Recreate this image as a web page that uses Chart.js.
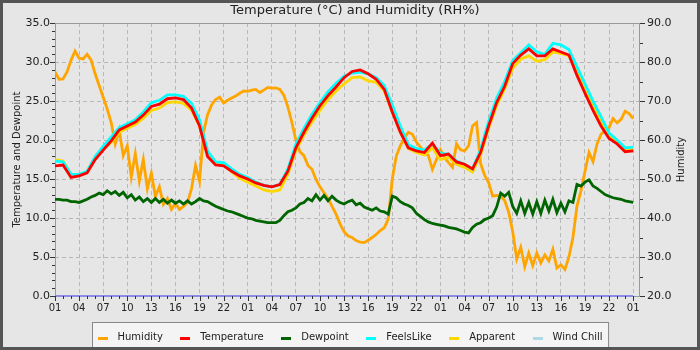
<!DOCTYPE html>
<html>
<head>
<meta charset="utf-8">
<script src="https://cdn.jsdelivr.net/npm/chart.js@4.4.1/dist/chart.umd.min.js"></script>
<style>
  html, body { margin: 0; padding: 0; background: #e6e6e6; }
</style>
</head>
<body>
<canvas id="myChart" width="700" height="350"></canvas>
<script>
// x values are hours after 01:00 on the first day
const tickHours = [0, 3, 6, 9, 12, 15, 18, 21, 24, 27, 30, 33, 36, 39, 42, 45, 48, 51, 54, 57, 60, 63, 66, 69, 72];
const tempTicks = [0, 5, 10, 15, 20, 25, 30, 35];
const humTicks = [20, 30, 40, 50, 60, 70, 80, 90];

// hourly readings
const temperature = [
  16.7, 16.8, 15.2, 15.4, 15.8, 17.5, 18.7, 19.9, 21.3, 21.8,
  22.3, 23.2, 24.3, 24.6, 25.3, 25.4, 25.2, 24.1, 21.8, 17.9,
  16.8, 16.7, 16.0, 15.4, 15.0, 14.5, 14.2, 14.0, 14.3, 16.0,
  19.0, 21.0, 22.8, 24.4, 25.7, 26.8, 28.0, 28.8, 29.0, 28.5,
  27.8, 26.5, 23.6, 21.0, 19.0, 18.6, 18.4, 19.6, 18.0, 18.2,
  17.2, 16.9, 16.3, 18.4, 21.8, 24.8, 26.9, 29.8, 30.9, 31.7,
  30.8, 30.8, 31.7, 31.3, 30.9, 28.3, 26.0, 23.8, 21.8, 20.2,
  19.5, 18.5, 18.6
];
const feelsLike = [
  17.3, 17.2, 15.6, 15.6, 16.0, 17.9, 19.2, 20.4, 21.6, 22.1,
  22.6, 23.6, 24.8, 25.1, 25.8, 25.8, 25.6, 24.7, 22.6, 18.6,
  17.2, 17.1, 16.3, 15.6, 15.2, 14.6, 14.2, 14.0, 14.3, 16.3,
  19.5, 21.5, 23.3, 24.8, 26.2, 27.3, 28.2, 28.6, 28.7, 28.5,
  28.0, 27.0, 24.5, 21.8, 19.4, 18.9, 18.7, 19.5, 18.3, 18.2,
  17.3, 16.9, 16.3, 18.8, 22.4, 25.4, 27.5, 30.2, 31.2, 32.2,
  31.3, 31.0, 32.4, 32.2, 31.6, 29.4, 27.2, 25.0, 23.0, 20.9,
  20.0, 19.0, 19.1
];
const apparent = [
  17.5, 17.3, 15.6, 15.6, 15.9, 17.6, 18.8, 19.7, 21.0, 21.5,
  22.0, 22.8, 23.8, 24.1, 24.8, 24.9, 24.7, 23.8, 21.8, 18.0,
  16.9, 16.8, 15.9, 15.1, 14.6, 14.1, 13.6, 13.4, 13.6, 15.6,
  18.7, 20.6, 22.3, 23.8, 25.2, 26.3, 27.2, 28.0, 28.1, 27.6,
  27.4, 26.3, 23.6, 21.0, 18.9, 18.4, 18.1, 19.0, 17.5, 17.8,
  16.9, 16.5, 15.9, 18.1, 21.5, 24.4, 26.6, 29.2, 30.4, 30.8,
  30.1, 30.3, 31.3, 31.1, 30.8, 28.8, 26.4, 24.4, 22.5, 20.5,
  19.7, 18.7, 18.8
];
const windChill = [
  0, 0, 0, 0, 0, 0, 0, 0, 0, 0,
  0, 0, 0, 0, 0, 0, 0, 0, 0, 0,
  0, 0, 0, 0, 0, 0, 0, 0, 0, 0,
  0, 0, 0, 0, 0, 0, 0, 0, 0, 0,
  0, 0, 0, 0, 0, 0, 0, 0, 0, 0,
  0, 0, 0, 0, 0, 0, 0, 0, 0, 0,
  0, 0, 0, 0, 0, 0, 0, 0, 0, 0,
  0, 0, 0
];

// half-hourly readings
const humidity = [
  77.5, 75.6, 75.7, 77.5, 80.5, 82.8, 81.0, 80.8, 82.0, 80.5,
  77.0, 74.0, 71.0, 68.0, 64.5, 59.0, 62.5, 56.0, 58.5, 50.5,
  56.5, 49.5, 55.0, 47.5, 51.5, 45.5, 48.0, 43.5, 45.0, 42.2,
  43.8, 42.2, 43.0, 44.0, 47.5, 53.5, 49.5, 62.0, 66.5, 69.0,
  70.4, 71.0, 69.5, 70.2, 70.8, 71.3, 72.0, 72.6, 72.5, 72.8,
  73.0, 72.2, 72.8, 73.5, 73.3, 73.4, 73.0, 71.5, 68.5, 64.5,
  60.0, 57.0, 56.0, 53.5, 52.5, 49.9, 48.0, 46.5, 45.0, 43.0,
  41.0, 38.5, 36.5, 35.4, 35.0, 34.2, 33.8, 33.7, 34.3, 35.0,
  35.8, 36.8, 37.5, 39.7, 50.0, 55.9, 58.5, 60.5, 62.0, 61.5,
  59.5, 58.2, 57.0, 56.0, 52.5, 55.0, 57.5, 55.5, 54.2, 53.0,
  59.0, 57.5, 57.2, 58.5, 63.6, 64.5, 54.0, 51.0, 49.1, 45.6,
  45.8, 45.6, 44.5, 41.5, 36.5, 29.5, 32.5, 27.5, 31.0, 27.8,
  31.0, 28.5, 30.5, 29.0, 32.0, 27.2, 28.0, 26.8, 30.0, 35.0,
  43.0, 47.0, 52.0, 56.8, 54.5, 59.0, 61.5, 62.5, 63.2, 65.5,
  64.4, 65.3, 67.4, 66.8, 65.5
];
const dewpoint = [
  12.4, 12.4, 12.3, 12.3, 12.1, 12.1, 12.0, 12.2, 12.4, 12.7,
  12.9, 13.2, 13.0, 13.5, 13.1, 13.4, 12.9, 13.3, 12.6, 13.0,
  12.3, 12.7, 12.1, 12.5, 12.0, 12.5, 12.0, 12.4, 11.9, 12.3,
  11.9, 12.2, 11.8, 12.2, 11.8, 12.1, 12.5, 12.2, 12.1, 11.8,
  11.5, 11.3, 11.1, 10.9, 10.8, 10.6, 10.4, 10.2, 10.0, 9.9,
  9.7, 9.6, 9.5, 9.4, 9.4, 9.4, 9.7, 10.3, 10.8, 11.0,
  11.3, 11.8, 12.0, 12.5, 12.2, 13.0, 12.3, 12.9, 12.2, 12.8,
  12.3, 12.0, 11.8, 12.1, 12.3, 11.7, 11.9, 11.4, 11.2, 11.0,
  11.3, 10.9, 10.8, 10.5, 12.8, 12.6, 12.1, 11.8, 11.6, 11.3,
  10.6, 10.2, 9.8, 9.5, 9.3, 9.2, 9.1, 9.0, 8.8, 8.7,
  8.6, 8.4, 8.2, 8.1, 8.8, 9.2, 9.4, 9.8, 10.0, 10.3,
  11.4, 13.2, 12.8, 13.3, 11.5, 10.6, 12.2, 10.6, 12.0, 10.5,
  12.1, 10.6, 12.3, 10.9, 12.4, 10.7, 11.9, 10.8, 12.2, 12.0,
  14.3, 14.1, 14.6, 14.9, 14.1, 13.8, 13.4, 13.0, 12.8, 12.6,
  12.5, 12.4, 12.2, 12.1, 12.0
];

const seriesNames = ['Humidity', 'Temperature', 'Dewpoint', 'FeelsLike', 'Apparent', 'Wind Chill'];
const legendColors = ['#ffa500', '#ff0000', '#006400', '#00ffff', '#ffd700', '#add8e6'];

function toPoints(values, step) {
  return values.map((v, i) => ({ x: i * step, y: v }));
}

Chart.defaults.font.family = '"DejaVu Sans", sans-serif';
Chart.defaults.color = '#222';

const deco = {
  id: 'deco',
  beforeDraw(chart) {
    const { ctx, width, height } = chart;
    ctx.save();
    ctx.fillStyle = '#e6e6e6';
    ctx.fillRect(0, 0, width, height);
    ctx.restore();
  },
  beforeDatasetsDraw(chart) {
    const { ctx, chartArea: a } = chart;
    ctx.save();
    ctx.strokeStyle = '#999';
    ctx.lineWidth = 1;
    ctx.strokeRect(Math.round(a.left) + 0.5, Math.round(a.top) + 0.5,
      Math.round(a.right - a.left) - 1, Math.round(a.bottom - a.top));
    ctx.restore();
  },
  afterDraw(chart) {
    const { ctx, chartArea: a, scales } = chart;
    ctx.save();
    // minor + major ticks
    ctx.strokeStyle = '#333';
    ctx.lineWidth = 1;
    ctx.beginPath();
    for (let h = 0; h <= 72; h++) {
      const px = Math.round(scales.x.getPixelForValue(h)) + 0.5;
      ctx.moveTo(px, a.bottom);
      ctx.lineTo(px, a.bottom + (h % 3 === 0 ? 5 : 3));
    }
    for (let v = 0; v <= 35; v++) {
      const py = Math.round(scales.y.getPixelForValue(v)) + 0.5;
      ctx.moveTo(a.left - (v % 5 === 0 ? 5 : 3), py);
      ctx.lineTo(a.left, py);
    }
    for (let v = 20; v <= 90; v += 5) {
      const py = Math.round(scales.y1.getPixelForValue(v)) + 0.5;
      ctx.moveTo(a.right, py);
      ctx.lineTo(a.right + (v % 10 === 0 ? 5 : 3), py);
    }
    ctx.stroke();

    // right axis title, reading upwards like the left one
    ctx.fillStyle = '#222';
    ctx.font = '10px "DejaVu Sans"';
    ctx.textAlign = 'center';
    ctx.textBaseline = 'middle';
    ctx.save();
    ctx.translate(681, (a.top + a.bottom) / 2);
    ctx.rotate(-Math.PI / 2);
    ctx.fillText('Humidity', 0, 0);
    ctx.restore();

    // legend box
    const widths = seriesNames.map(t => ctx.measureText(t).width);
    const total = 5 + widths.reduce((s, w) => s + 20 + w, 0) + 17.5 * (seriesNames.length - 1) + 6;
    const bx = Math.round(350.5 - total / 2) + 0.5;
    ctx.fillStyle = '#f4f4f4';
    ctx.fillRect(bx, 322.5, total, 25);
    ctx.strokeStyle = '#888';
    ctx.strokeRect(bx, 322.5, total, 25);
    let cx = bx + 5;
    ctx.textAlign = 'left';
    seriesNames.forEach((name, i) => {
      ctx.fillStyle = legendColors[i];
      ctx.fillRect(Math.round(cx), 337, 10, 3);
      ctx.fillStyle = '#222';
      ctx.fillText(name, cx + 20, 337.5);
      cx += 20 + widths[i] + 17.5;
    });

    // outer frame
    ctx.strokeStyle = '#555';
    ctx.lineWidth = 3;
    ctx.strokeRect(1.5, 1.5, 697, 347);
    ctx.restore();
  }
};

const ctx = document.getElementById('myChart');

new Chart(ctx, {
  type: 'line',
  data: {
    datasets: [
      { label: seriesNames[0], data: toPoints(humidity, 0.5), yAxisID: 'y1', borderColor: legendColors[0], order: 5 },
      { label: seriesNames[1], data: toPoints(temperature, 1), yAxisID: 'y', borderColor: legendColors[1], order: 2 },
      { label: seriesNames[2], data: toPoints(dewpoint, 0.5), yAxisID: 'y', borderColor: legendColors[2], order: 1 },
      { label: seriesNames[3], data: toPoints(feelsLike, 1), yAxisID: 'y', borderColor: legendColors[3], order: 3 },
      { label: seriesNames[4], data: toPoints(apparent, 1), yAxisID: 'y', borderColor: legendColors[4], order: 4 },
      { label: seriesNames[5], data: toPoints(windChill, 1), yAxisID: 'y', borderColor: '#8c8ce6', borderWidth: 2, clip: false, order: 0 }
    ]
  },
  options: {
    responsive: false,
    animation: false,
    devicePixelRatio: 1,
    elements: {
      point: { radius: 0 },
      line: { borderWidth: 2.8, tension: 0 }
    },
    layout: { padding: { left: 10, right: 0, top: 0, bottom: 34 } },
    plugins: {
      legend: { display: false },
      tooltip: { enabled: false },
      title: {
        display: true,
        text: 'Temperature (°C) and Humidity (RH%)',
        font: { size: 13, weight: 'normal' },
        color: '#222',
        padding: { top: 3, bottom: 4.5 }
      }
    },
    scales: {
      x: {
        type: 'linear',
        min: 0,
        max: 72.85,
        afterBuildTicks: s => { s.ticks = tickHours.map(v => ({ value: v })); },
        afterFit: s => { s.height = 20; },
        ticks: {
          autoSkip: false,
          maxRotation: 0,
          padding: 6,
          font: { size: 10 },
          callback: v => String((v + 1) % 24).padStart(2, '0')
        },
        grid: { color: '#b8b8b8', drawTicks: false },
        border: { display: false, dash: [4, 3] }
      },
      y: {
        position: 'left',
        min: 0,
        max: 35,
        afterBuildTicks: s => { s.ticks = tempTicks.map(v => ({ value: v })); },
        afterFit: s => { s.width = 45; },
        ticks: { padding: 5, font: { size: 11 }, callback: v => v.toFixed(1) },
        grid: { color: '#b8b8b8', drawTicks: false },
        border: { display: false, dash: [4, 3] },
        title: { display: true, text: 'Temperature and Dewpoint', font: { size: 10 }, padding: { top: 1, bottom: 0 } }
      },
      y1: {
        position: 'right',
        min: 20,
        max: 90,
        afterBuildTicks: s => { s.ticks = humTicks.map(v => ({ value: v })); },
        afterFit: s => { s.width = 60; },
        ticks: { padding: 7, font: { size: 11 }, callback: v => v.toFixed(1) },
        grid: { display: false, drawTicks: false },
        border: { display: false }
      }
    }
  },
  plugins: [deco]
});
</script>
</body>
</html>
